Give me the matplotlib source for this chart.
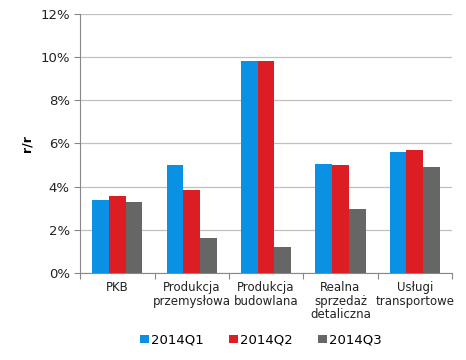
import matplotlib.pyplot as plt
import numpy as np
from matplotlib.ticker import FuncFormatter

categories = ['PKB', 'Produkcja\nprzemysłowa', 'Produkcja\nbudowlana',
              'Realna\nsprzedaż\ndetaliczna', 'Usługi\ntransportowe']
series_names = ['2014Q1', '2014Q2', '2014Q3']
q1 = [3.4, 5.0, 9.8, 5.05, 5.6]
q2 = [3.55, 3.85, 9.8, 5.0, 5.7]
q3 = [3.3, 1.6, 1.2, 2.95, 4.9]
colors = ['#0A91E3', '#DC1E24', '#666666']

fig = plt.figure(figsize=(4.66, 3.6), dpi=100)
ax = fig.add_axes([0.172, 0.242, 0.798, 0.719])

x = np.arange(len(categories))
w = 0.225
for i, (vals, name) in enumerate(zip([q1, q2, q3], series_names)):
    ax.bar(x + (i - 1) * w, vals, w, color=colors[i], label=name, zorder=3)

ax.set_xlim(-0.5, len(categories) - 0.5)
ax.set_ylim(0, 12)
ax.set_yticks(np.arange(0, 13, 2))
ax.yaxis.set_major_formatter(FuncFormatter(lambda v, p: '%d%%' % v))
ax.yaxis.grid(True, color='#C0C0C0', linewidth=0.9, zorder=0)
ax.tick_params(axis='y', length=4, color='#888888', labelsize=9.5, labelcolor='#222222')

# category labels in the middle, ticks at boundaries
ax.set_xticks(np.arange(-0.5, len(categories), 1))
ax.set_xticklabels([])
ax.set_xticks(x, minor=True)
ax.set_xticklabels(categories, minor=True, fontsize=8.5, color='#222222', linespacing=1.05)
ax.tick_params(axis='x', which='major', length=4, color='#888888')
ax.tick_params(axis='x', which='minor', length=0, pad=6)

for s in ['top', 'right']:
    ax.spines[s].set_visible(False)
for s in ['left', 'bottom']:
    ax.spines[s].set_color('#888888')

ax.set_ylabel('r/r', fontsize=9, fontweight='bold', labelpad=5)

fig.legend(loc='lower center', bbox_to_anchor=(0.56, 0.004), ncol=3, frameon=False,
           fontsize=9.5, handlelength=0.65, handleheight=0.65, handletextpad=0.2,
           columnspacing=1.9)

fig.savefig('out.png', dpi=100)
